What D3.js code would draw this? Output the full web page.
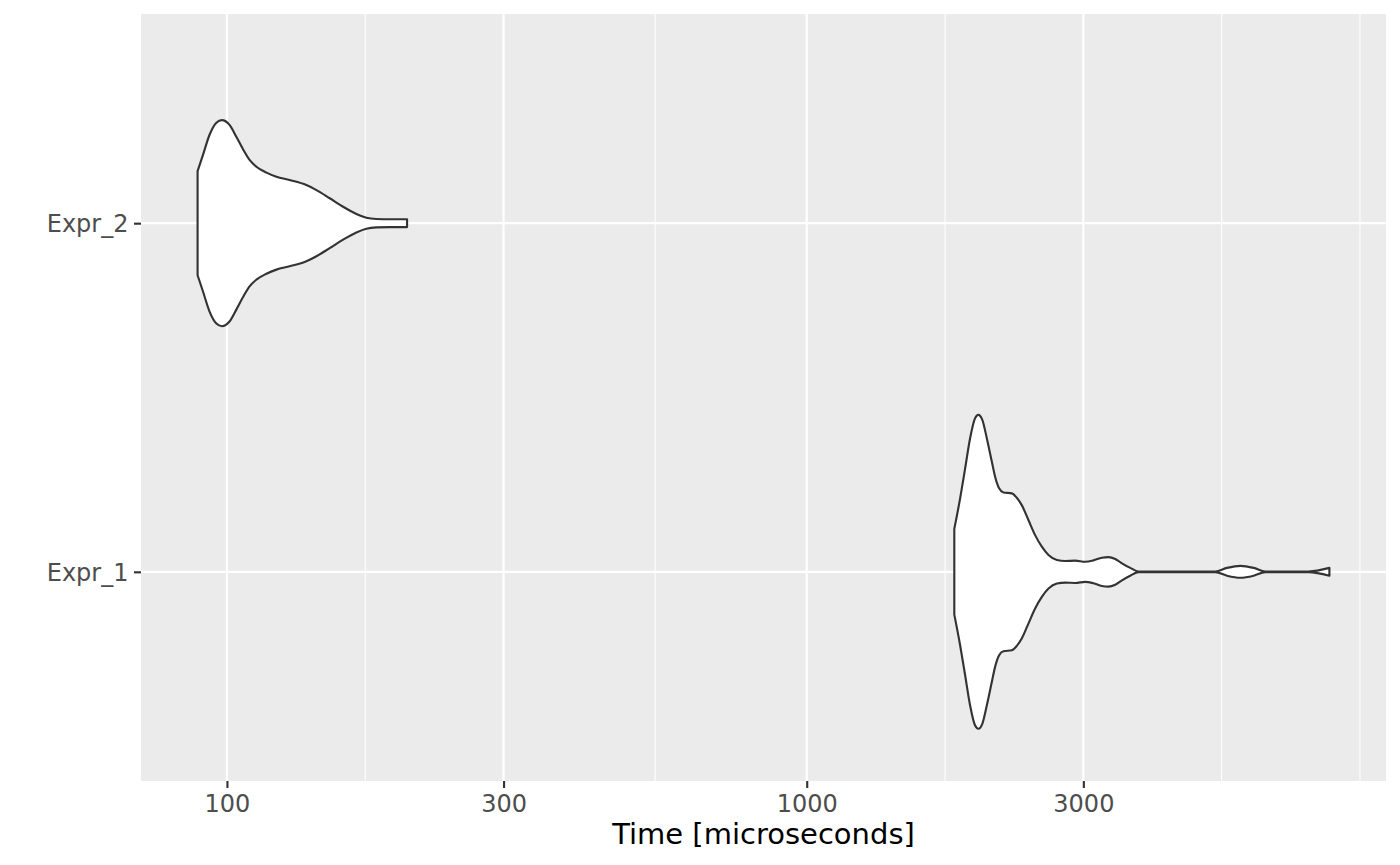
<!DOCTYPE html>
<html>
<head>
<meta charset="utf-8">
<script src="https://cdn.jsdelivr.net/npm/d3@7"></script>
<style>
  html, body { margin: 0; padding: 0; background: #ffffff; }
  svg { display: block; }
</style>
</head>
<body>
<svg id="chart" width="1400" height="865"></svg>
<script>
// ---------------- data ----------------
const categories = ["Expr_1", "Expr_2"];

// violin outlines: time (microseconds) and relative density (max = 1)
const expr1Time = [1797, 1839, 1876, 1913, 1951, 1977, 2009, 2045, 2086, 2113, 2147, 2184, 2258, 2303, 2349, 2412, 2477, 2544, 2612, 2701, 2791, 2904, 3022, 3124, 3229, 3315, 3405, 3497, 3614, 3736, 4400, 5067, 5308, 5596, 5900, 6180, 6800, 7338, 7971];
const expr1Density = [0.273, 0.468, 0.659, 0.850, 0.978, 1.000, 0.967, 0.850, 0.701, 0.606, 0.532, 0.506, 0.500, 0.472, 0.425, 0.330, 0.234, 0.160, 0.107, 0.075, 0.069, 0.071, 0.064, 0.073, 0.090, 0.094, 0.082, 0.054, 0.025, 0.002, 0.002, 0.002, 0.025, 0.038, 0.025, 0.002, 0.002, 0.002, 0.025];

const expr2Time = [89.0, 90.9, 93.3, 95.9, 98.0, 101.1, 103.8, 106.6, 109.4, 112.4, 117.0, 121.7, 128.3, 137.1, 142.7, 150.4, 158.6, 167.2, 174.0, 181.1, 190.9, 204.5];
const expr2Density = [0.332, 0.434, 0.562, 0.640, 0.657, 0.625, 0.551, 0.471, 0.403, 0.360, 0.322, 0.296, 0.275, 0.243, 0.211, 0.159, 0.105, 0.059, 0.035, 0.027, 0.025, 0.025];

const xTickValues = [100, 300, 1000, 3000];
const xTickLabels = ["100", "300", "1000", "3000"];
const xTitle = "Time [microseconds]";

// ---------------- layout ----------------
const W = 1400, H = 865;
const panel = { left: 141, right: 1386, top: 14, bottom: 781 };
const FONT = "'DejaVu Sans', Verdana, sans-serif";

const series = [
  { cat: "Expr_1", pts: expr1Time.map((t, i) => ({ t, d: expr1Density[i] })) },
  { cat: "Expr_2", pts: expr2Time.map((t, i) => ({ t, d: expr2Density[i] })) }
];

// log x scale with ggplot-style 5% expansion in log space
const allT = expr1Time.concat(expr2Time);
const [lmin, lmax] = d3.extent(allT).map(Math.log10);
const ex = 0.05 * (lmax - lmin);
const x = d3.scaleLog()
  .domain([Math.pow(10, lmin - ex), Math.pow(10, lmax + ex)])
  .range([panel.left, panel.right]);

const y = d3.scalePoint()
  .domain(categories)
  .range([panel.bottom, panel.top])
  .padding(0.6);

const halfMax = 0.45 * y.step();

const svg = d3.select("#chart");
svg.append("rect").attr("width", W).attr("height", H).attr("fill", "#ffffff");

// panel background
svg.append("rect")
  .attr("x", panel.left).attr("y", panel.top)
  .attr("width", panel.right - panel.left)
  .attr("height", panel.bottom - panel.top)
  .attr("fill", "#EBEBEB");

// minor breaks (ggplot regular_minor_breaks in transformed space)
const lb = xTickValues.map(Math.log10);
const bd = lb[1] - lb[0];
const dom = x.domain().map(Math.log10);
let bb = lb.slice();
if (dom[0] < bb[0]) bb.unshift(bb[0] - bd);
if (dom[1] > bb[bb.length - 1]) bb.push(bb[bb.length - 1] + bd);
const minor = [];
for (let i = 0; i < bb.length - 1; i++) {
  minor.push((bb[i] + bb[i + 1]) / 2);
  minor.push(bb[i + 1]);
}
const minorVals = minor
  .filter(v => !lb.some(m => Math.abs(m - v) < 1e-9))
  .filter(v => v > dom[0] && v < dom[1])
  .map(v => Math.pow(10, v));

const grid = svg.append("g");
grid.selectAll("line.minor").data(minorVals).join("line")
  .attr("x1", d => x(d)).attr("x2", d => x(d))
  .attr("y1", panel.top).attr("y2", panel.bottom)
  .attr("stroke", "#ffffff").attr("stroke-width", 1.07);

grid.selectAll("line.majx").data(xTickValues).join("line")
  .attr("x1", d => x(d)).attr("x2", d => x(d))
  .attr("y1", panel.top).attr("y2", panel.bottom)
  .attr("stroke", "#ffffff").attr("stroke-width", 2.13);

grid.selectAll("line.majy").data(categories).join("line")
  .attr("x1", panel.left).attr("x2", panel.right)
  .attr("y1", d => y(d)).attr("y2", d => y(d))
  .attr("stroke", "#ffffff").attr("stroke-width", 2.13);

// violins
const violins = svg.append("g");
series.forEach(s => {
  const cy = y(s.cat);
  const area = d3.area()
    .x(p => x(p.t))
    .y0(p => cy + p.d * halfMax)
    .y1(p => cy - p.d * halfMax)
    .curve(d3.curveMonotoneX);
  violins.append("path")
    .datum(s.pts)
    .attr("d", area)
    .attr("fill", "#ffffff")
    .attr("stroke", "#333333")
    .attr("stroke-width", 2.13)
    .attr("stroke-linejoin", "round");
});

// x axis
const xAxis = d3.axisBottom(x)
  .tickValues(xTickValues)
  .tickFormat((d, i) => xTickLabels[i])
  .tickSize(7)
  .tickPadding(6);
const gx = svg.append("g")
  .attr("transform", `translate(0,${panel.bottom})`)
  .call(xAxis);
gx.select(".domain").remove();
gx.selectAll(".tick line").attr("stroke", "#333333").attr("stroke-width", 2.13);
gx.selectAll(".tick text")
  .attr("fill", "#4D4D4D")
  .attr("font-family", FONT)
  .attr("font-size", 24)
  .attr("y", 31)
  .attr("dy", null);

// y axis
const yAxis = d3.axisLeft(y).tickSize(7).tickPadding(6);
const gy = svg.append("g")
  .attr("transform", `translate(${panel.left},0)`)
  .call(yAxis);
gy.select(".domain").remove();
gy.selectAll(".tick line").attr("stroke", "#333333").attr("stroke-width", 2.13);
gy.selectAll(".tick text")
  .attr("fill", "#4D4D4D")
  .attr("font-family", FONT)
  .attr("font-size", 24)
  .attr("x", -12.5)
  .attr("dy", "0.36em");

// x title
svg.append("text")
  .attr("x", (panel.left + panel.right) / 2)
  .attr("y", 844)
  .attr("text-anchor", "middle")
  .attr("font-family", FONT)
  .attr("font-size", 29)
  .attr("fill", "#000000")
  .text(xTitle);
</script>
</body>
</html>
